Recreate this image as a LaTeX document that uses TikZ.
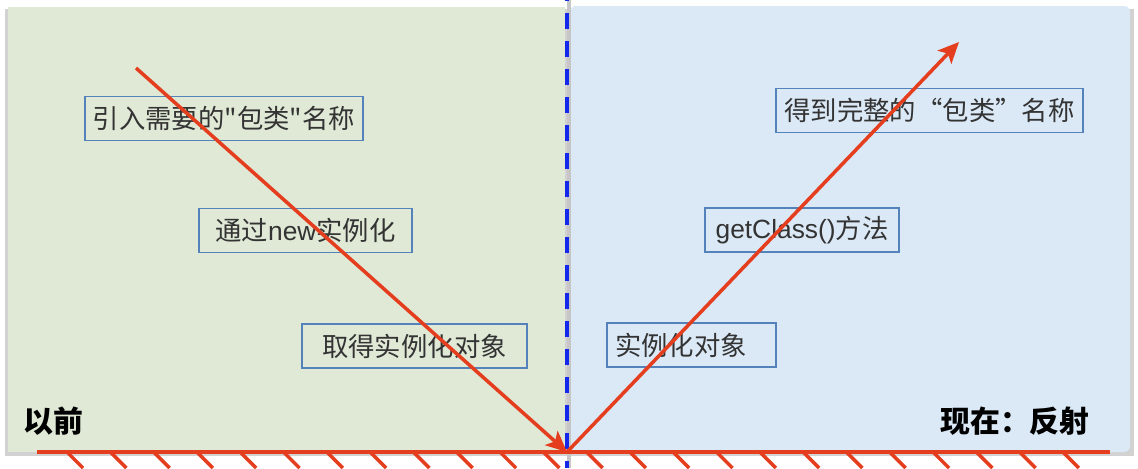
\documentclass[tikz,border=0pt]{standalone}
\usepackage{fontspec}
\usepackage{xcolor}
\setmainfont{Liberation Sans}
\newfontfamily\cjk{Noto Sans CJK SC}
\usetikzlibrary{arrows.meta}

\definecolor{oldbg}{RGB}{223,233,214}
\definecolor{newbg}{RGB}{219,233,246}
\definecolor{boxline}{RGB}{84,130,186}
\definecolor{ray}{RGB}{228,62,30}
\definecolor{split}{RGB}{20,40,235}

\begin{document}
\begin{tikzpicture}[x=0.02cm, y=-0.02cm,
        txtbox/.style={draw=boxline, line width=1pt, minimum height=0.88cm, inner xsep=0.16cm, inner ysep=0pt, text=black!80, font=\fontsize{15}{18}\selectfont\cjk},
        era/.style={text=black, font=\fontsize{17}{20}\selectfont\cjk\bfseries},
        rayarrow/.style={draw=ray, line width=2pt, -{Stealth[length=0.42cm, width=0.38cm, inset=0.1cm]}},
        hatch/.style={draw=ray, line width=2pt}]
        \useasboundingbox (0,0) rectangle (1138,468);

        % panels
        \fill[gray!35] (5,9) rectangle (568,456);
        \fill[gray!35] (571,9) rectangle (1134,456);
        \fill[oldbg] (8,7) rectangle (565,452);
        \fill[newbg, rounded corners=0.12cm] (570,6) -- (1130,6) -- (1130,452) -- (570,452) -- cycle;
        \draw[gray!45, line width=2pt] (569,0) -- (569,468);
        \draw[split, line width=2.4pt, dash pattern=on 0.32cm off 0.24cm, dash phase=0.3cm] (567,0) -- (567,468);

        \node[txtbox, minimum width=5.44cm] (imp) at (224,118.5) {引入需要的"包类"名称};
        \node[txtbox, minimum width=4.26cm] (nw) at (305.5,230.5) {通过{\rmfamily new}实例化};
        \node[txtbox, minimum width=4.5cm] (get) at (414.5,346) {取得实例化对象};
        \node[txtbox, text width=3.06cm, align=left] (inst) at (691.5,345) {实例化对象};
        \node[txtbox, minimum width=3.88cm] (cls) at (802,230) {{\rmfamily getClass()}方法};
        \node[txtbox, minimum width=6.14cm] (pkg) at (929.5,110.5) {得到完整的“包类”名称};

        \node[era] (old) at (53,421) {以前};
        \node[era] (now) at (1015,421) {现在：反射};

        \coordinate (s) at (136,68);
        \coordinate (m) at (567,452);
        \coordinate (e) at (959,42);
        \coordinate (gl) at (37,452);
        \coordinate (gr) at (1110,452);

        \draw[rayarrow] (s) to (m);
        \draw[rayarrow] (m) to (e);

        % mirror
        \draw[ray, line width=2pt] (gl) to (gr);
        \foreach \i in {0,...,23}
            \draw[hatch] (67+43.3*\i,452) -- ++(16,16);
    \end{tikzpicture}
\end{document}
